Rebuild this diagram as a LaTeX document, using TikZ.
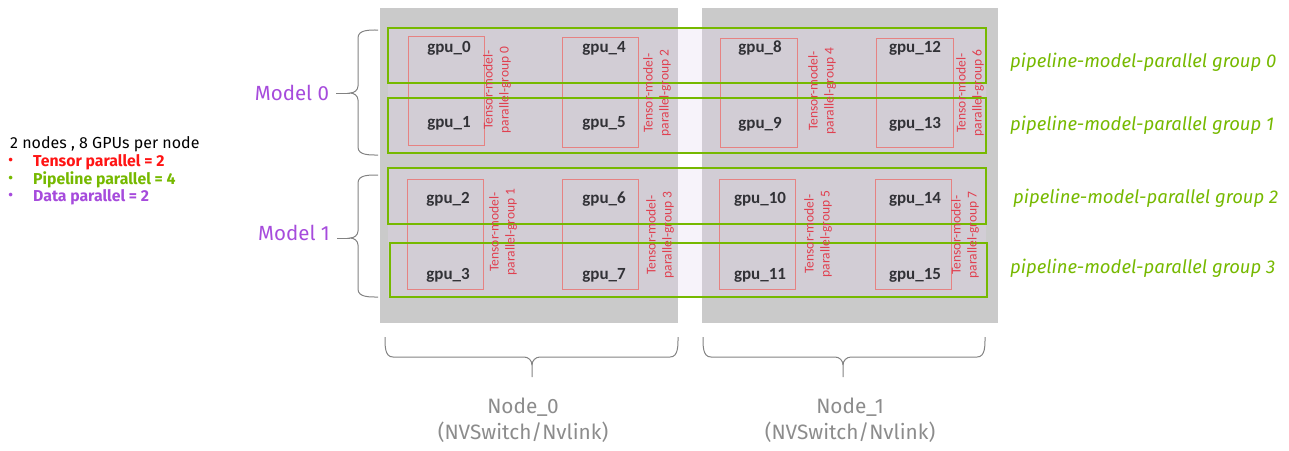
\documentclass[tikz,border=0pt]{standalone}
\usepackage{fontspec}
\setmainfont{Fira Sans}
\newfontfamily\calfont{Carlito}
\definecolor{nvgreen}{RGB}{118,185,0}
\definecolor{nodegray}{RGB}{202,202,202}
\definecolor{lav}{RGB}{229,214,240}
\definecolor{tred}{RGB}{224,64,80}
\definecolor{boxred}{RGB}{230,130,130}
\definecolor{purp}{RGB}{166,75,220}
\definecolor{gputxt}{RGB}{50,50,55}
\definecolor{bracegray}{RGB}{130,130,130}
\definecolor{labgray}{RGB}{140,140,140}
\definecolor{bred}{RGB}{255,20,20}
\begin{document}
\begin{tikzpicture}[x=1pt,y=-1pt,
  grayb/.style={rectangle,fill=nodegray,draw=none,inner sep=0pt,minimum height=315pt},
  lavb/.style={rectangle,fill=lav,fill opacity=0.3,draw=none,inner sep=0pt,minimum width=598pt},
  pipeb/.style={rectangle,draw=nvgreen,line width=2pt,inner sep=0pt,minimum width=598pt},
  tensb/.style={rectangle,draw=boxred,line width=0.8pt,inner sep=0pt,minimum width=76pt,minimum height=110pt},
  gpul/.style={font=\calfont\bfseries\fontsize{17}{18}\selectfont,text=gputxt,inner sep=0pt},
  tmpl/.style={font=\calfont\fontsize{13.5}{16}\selectfont,text=tred,rotate=90,align=center,inner sep=0pt},
  ppl/.style={font=\itshape\fontsize{18.5}{20}\selectfont,text=nvgreen,anchor=west,inner sep=0pt},
  modl/.style={font=\fontsize{20.5}{24}\selectfont,text=purp,inner sep=0pt},
  nodel/.style={font=\fontsize{20.8}{26}\selectfont,text=labgray,align=center,inner sep=0pt},
  legl/.style={font=\fontsize{16}{17}\selectfont,anchor=west,inner sep=0pt},
  legb/.style={legl,font=\bfseries\fontsize{15.8}{17}\selectfont},
  bracel/.style={draw=bracegray,line width=1pt}
]
\useasboundingbox (0,0) rectangle (1289,450);
% node boxes
\node[grayb,minimum width=298pt] (node0) at (529,165.5) {};
\node[grayb,minimum width=296pt] (node1) at (850,165.5) {};
% model areas
\node[lavb,minimum height=125pt] (model0) at (687,90.5) {};
\node[lavb,minimum height=129pt] (model1) at (687,232.5) {};
% tensor groups
\node[tensb,minimum height=109pt] (t0) at (446,90.5) {};
\node[tensb] (t2) at (600,92) {};
\node[tensb] (t1) at (445,234) {};
\node[tensb] (t3) at (600,234) {};
\node[tensb,minimum width=77pt,minimum height=109pt] (t4) at (758.5,92.5) {};
\node[tensb,minimum width=77pt,minimum height=109pt] (t6) at (914.5,92.5) {};
\node[tensb] (t5) at (757,234) {};
\node[tensb] (t7) at (913,234) {};
% pipeline groups
\node[pipeb,minimum height=55pt] (p0) at (687,55.5) {};
\node[pipeb,minimum height=55pt] (p1) at (687,125.5) {};
\node[pipeb,minimum height=56pt] (p2) at (687,196) {};
\node[pipeb,minimum width=597pt,minimum height=54pt] (p3) at (688.5,270) {};
% gpu labels
\node[gpul] (g0) at (449,48) {gpu\_0};
\node[gpul] (g1) at (449,123) {gpu\_1};
\node[gpul] (g4) at (604,48) {gpu\_4};
\node[gpul] (g5) at (604,123) {gpu\_5};
\node[gpul] (g2) at (448,199) {gpu\_2};
\node[gpul] (g3) at (448,275) {gpu\_3};
\node[gpul] (g6) at (604,199) {gpu\_6};
\node[gpul] (g7) at (604,275) {gpu\_7};
\node[gpul] (g8) at (760,48) {gpu\_8};
\node[gpul] (g9) at (760,124) {gpu\_9};
\node[gpul] (g12) at (915,48) {gpu\_12};
\node[gpul] (g13) at (915,124) {gpu\_13};
\node[gpul] (g10) at (760,199) {gpu\_10};
\node[gpul] (g11) at (760,275) {gpu\_11};
\node[gpul] (g14) at (915,199) {gpu\_14};
\node[gpul] (g15) at (915,275) {gpu\_15};
% tensor labels
\node[tmpl] (tl0) at (497,90) {Tensor-model-\\parallel-group 0};
\node[tmpl] (tl2) at (657,93) {Tensor-model-\\parallel-group 2};
\node[tmpl] (tl1) at (503,232) {Tensor-model-\\parallel-group 1};
\node[tmpl] (tl3) at (660,235) {Tensor-model-\\parallel-group 3};
\node[tmpl] (tl4) at (822,91) {Tensor-model-\\parallel-group 4};
\node[tmpl] (tl6) at (970,93) {Tensor-model-\\parallel-group 6};
\node[tmpl] (tl5) at (818,234) {Tensor-model-\\parallel-group 5};
\node[tmpl] (tl7) at (965,235) {Tensor-model-\\parallel-group 7};
% pipeline labels
\node[ppl] (pl0) at (1010,62) {pipeline-model-parallel group 0};
\node[ppl] (pl1) at (1010,125) {pipeline-model-parallel group 1};
\node[ppl] (pl2) at (1013,198) {pipeline-model-parallel group 2};
\node[ppl] (pl3) at (1010,268) {pipeline-model-parallel group 3};
% model labels
\node[modl] (ml0) at (292,93) {Model 0};
\node[modl] (ml1) at (294,233) {Model 1};
% legend
\node[legl] (leg0) at (10,144) {2 nodes , 8 GPUs per node};
\node[legl,text=bred] (b1) at (8,162) {\textbullet};
\node[legb,text=bred] (leg1) at (33,162) {Tensor parallel = 2};
\node[legl,text=nvgreen] (b2) at (8,180) {\textbullet};
\node[legb,text=nvgreen] (leg2) at (33,180) {Pipeline parallel = 4};
\node[legl,text=purp] (b3) at (8,197) {\textbullet};
\node[legb,text=purp] (leg3) at (33,197) {Data parallel = 2};
% left braces
\coordinate (tip0) at (350,93);
\coordinate (tip1) at (350,238);
\draw[bracel] (378,30) to[out=180,in=90] (358,38) -- (358,86) to[out=-90,in=0] (tip0)
  to[out=0,in=90] (358,100) -- (358,147) to[out=-90,in=180] (378,155);
\draw[bracel] (ml0.east) ++(7,0) -- (tip0);
\draw[bracel] (378,175) to[out=180,in=90] (358,183) -- (358,231) to[out=-90,in=0] (tip1)
  to[out=0,in=90] (358,245) -- (358,289) to[out=-90,in=180] (378,297);
\draw[bracel] (337,238) -- (tip1);
% bottom braces
\coordinate (btip0) at (532,377);
\coordinate (btip1) at (843,377);
\draw[bracel] (385,337) to[out=-90,in=180] (393,357) -- (524,357) to[out=0,in=90] (532,365) -- (btip0);
\draw[bracel] (532,365) to[out=90,in=180] (540,357) -- (670,357) to[out=0,in=-90] (678,337);
\draw[bracel] (703,337) to[out=-90,in=180] (711,357) -- (835,357) to[out=0,in=90] (843,365) -- (btip1);
\draw[bracel] (843,365) to[out=90,in=180] (851,357) -- (977,357) to[out=0,in=-90] (985,337);
% node labels
\node[nodel] (nl0) at (523,420) {Node\_0\\(NVSwitch/Nvlink)};
\node[nodel] (nl1) at (850,420) {Node\_1\\(NVSwitch/Nvlink)};
\end{tikzpicture}
\end{document}
